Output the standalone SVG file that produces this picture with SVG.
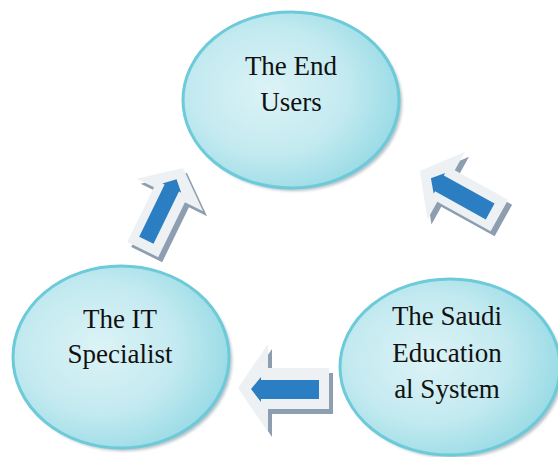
<svg xmlns="http://www.w3.org/2000/svg" width="558" height="457" viewBox="0 0 558 457">
<style>
.node-shadow{fill:#7f98a4;opacity:0.6;filter:url(#blur)}
.node{fill:url(#cg);stroke:#6ccad9;stroke-width:3}
.lbl{font-family:'Liberation Serif','DejaVu Serif','Times New Roman',serif;font-size:27px;fill:#111;text-anchor:middle}
.ar-sh{fill:#8d9eb0}
.ar-face{fill:#eef1f4}
.ar-in{fill:#2b7ec2}
</style>
<defs>
<radialGradient id="cg" cx="0.4" cy="0.45" r="0.65">
<stop offset="0" stop-color="#dcf3f6"/>
<stop offset="0.55" stop-color="#c3eaf0"/>
<stop offset="1" stop-color="#94d9e4"/>
</radialGradient>
<filter id="blur" x="-10%" y="-10%" width="120%" height="120%"><feGaussianBlur stdDeviation="1.5"/></filter>
<path id="outer" d="M0,0 L30,-44 L30,-20 L91,-20 L91,21 L30,21 L30,44 Z"/>
<path id="inner" d="M13,1 L23,-11 L23,-8 L81,-8 L81,11 L23,11 L23,14 Z"/>
</defs>
<g id="connectors">
<g id="arrow-it-to-endusers">
<use href="#outer" class="ar-sh" transform="translate(187,173) rotate(116) scale(1,0.84)"/>
<use href="#outer" class="ar-face" transform="translate(183,168) rotate(116) scale(1,0.84)"/>
<use href="#inner" class="ar-in" transform="translate(183,168) rotate(116) scale(1,0.84)"/>
</g>
<g id="arrow-saudi-to-endusers">
<use href="#outer" class="ar-sh" transform="translate(424,176) rotate(29) scale(1,0.88)"/>
<use href="#outer" class="ar-face" transform="translate(420,171) rotate(29) scale(1,0.88)"/>
<use href="#inner" class="ar-in" transform="translate(420,171) rotate(29) scale(1,0.95)"/>
</g>
<g id="arrow-saudi-to-it">
<use href="#outer" class="ar-sh" transform="translate(242,393)"/>
<use href="#outer" class="ar-face" transform="translate(238,388)"/>
<use href="#inner" class="ar-in" transform="translate(238,388)"/>
</g>
</g>
<g id="node-endusers">
<ellipse class="node-shadow" cx="294" cy="103" rx="108" ry="88"/>
<ellipse class="node" cx="291" cy="100" rx="108" ry="88"/>
<text class="lbl" x="291" y="75">The End</text>
<text class="lbl" x="291" y="111">Users</text>
</g>
<g id="node-it">
<ellipse class="node-shadow" cx="124" cy="360" rx="108" ry="91"/>
<ellipse class="node" cx="121" cy="357" rx="108" ry="91"/>
<text class="lbl" x="120" y="328">The IT</text>
<text class="lbl" x="120" y="363">Specialist</text>
</g>
<g id="node-saudi">
<ellipse class="node-shadow" cx="453" cy="370" rx="110" ry="88"/>
<ellipse class="node" cx="450" cy="367" rx="110" ry="88"/>
<text class="lbl" x="447" y="325">The Saudi</text>
<text class="lbl" x="447" y="362">Education</text>
<text class="lbl" x="447" y="398">al System</text>
</g>
</svg>
